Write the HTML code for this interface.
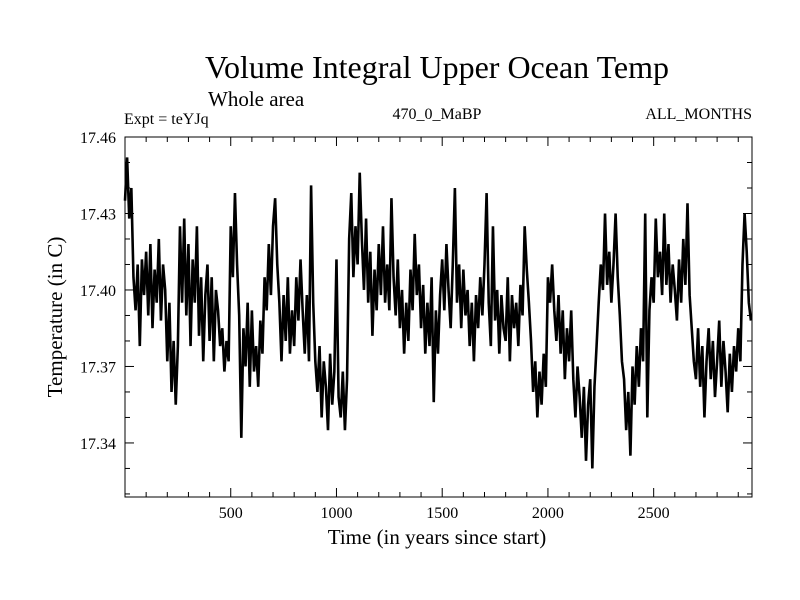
<!DOCTYPE html>
<html><head><meta charset="utf-8"><style>
html,body{margin:0;padding:0;background:#fff;}
svg{display:block;font-family:"Liberation Serif",serif;}
</style></head><body>
<svg id="chart" width="800" height="600">
<rect width="800" height="600" fill="#fff"/>
<text x="437" y="78" font-size="32" text-anchor="middle">Volume Integral Upper Ocean Temp</text>
<text x="208" y="106" font-size="21">Whole area</text>
<text x="124" y="124" font-size="16">Expt = teYJq</text>
<text x="437" y="119" font-size="16" text-anchor="middle">470_0_MaBP</text>
<text x="752" y="119" font-size="16" text-anchor="end">ALL_MONTHS</text>
<text x="437" y="544" font-size="21" text-anchor="middle">Time (in years since start)</text>
<text x="0" y="0" font-size="21" text-anchor="middle" transform="translate(62,317) rotate(-90)">Temperature (in C)</text>
<g id="axes"></g>
<path id="series" fill="none" stroke="#000" stroke-width="2.6" stroke-linejoin="miter" stroke-miterlimit="3"/>
<rect x="125" y="137" width="627" height="360" fill="none" stroke="#000" stroke-width="1"/>
</svg>
<script>
const startYear = 0;
const stepYears = 10;
const temps = [
17.435,17.452,17.428,17.440,17.405,17.392,17.410,17.378,17.412,17.398,
17.415,17.390,17.418,17.385,17.408,17.395,17.420,17.388,17.410,17.400,
17.372,17.395,17.360,17.380,17.355,17.378,17.425,17.395,17.428,17.390,
17.418,17.378,17.412,17.395,17.425,17.382,17.405,17.372,17.398,17.410,
17.380,17.405,17.372,17.400,17.392,17.378,17.385,17.368,17.380,17.372,
17.425,17.405,17.438,17.410,17.390,17.342,17.385,17.370,17.395,17.362,
17.392,17.368,17.378,17.362,17.388,17.375,17.405,17.392,17.418,17.398,
17.425,17.436,17.410,17.395,17.372,17.398,17.380,17.405,17.375,17.392,
17.378,17.405,17.388,17.412,17.392,17.375,17.398,17.372,17.441,17.395,
17.372,17.360,17.378,17.350,17.372,17.362,17.345,17.375,17.355,17.368,
17.412,17.358,17.350,17.368,17.345,17.365,17.420,17.438,17.405,17.425,
17.410,17.446,17.420,17.400,17.428,17.395,17.415,17.382,17.408,17.392,
17.418,17.398,17.425,17.395,17.410,17.392,17.436,17.405,17.390,17.412,
17.385,17.400,17.375,17.395,17.380,17.408,17.392,17.422,17.398,17.410,
17.385,17.402,17.375,17.395,17.378,17.405,17.356,17.392,17.375,17.398,
17.412,17.392,17.418,17.400,17.385,17.410,17.440,17.395,17.410,17.385,
17.408,17.390,17.400,17.378,17.395,17.372,17.398,17.385,17.405,17.390,
17.410,17.438,17.395,17.378,17.425,17.388,17.400,17.375,17.398,17.385,
17.380,17.405,17.372,17.398,17.385,17.395,17.378,17.402,17.390,17.425,
17.408,17.395,17.380,17.360,17.372,17.350,17.368,17.355,17.375,17.362,
17.405,17.395,17.410,17.392,17.380,17.398,17.375,17.392,17.365,17.385,
17.372,17.392,17.365,17.350,17.370,17.358,17.342,17.362,17.333,17.355,
17.365,17.330,17.362,17.378,17.395,17.410,17.400,17.430,17.402,17.415,
17.395,17.410,17.430,17.405,17.390,17.372,17.365,17.345,17.360,17.335,
17.370,17.355,17.378,17.362,17.385,17.372,17.430,17.350,17.392,17.405,
17.395,17.428,17.405,17.415,17.398,17.430,17.402,17.418,17.395,17.410,
17.400,17.388,17.412,17.395,17.420,17.402,17.434,17.398,17.385,17.372,
17.365,17.385,17.362,17.378,17.350,17.372,17.385,17.365,17.380,17.358,
17.372,17.388,17.362,17.380,17.368,17.352,17.375,17.360,17.378,17.368,
17.385,17.372,17.410,17.430,17.415,17.395,17.388
];
const xTickLabels = [500, 1000, 1500, 2000, 2500];
const yTickLabels = ["17.34", "17.37", "17.40", "17.43", "17.46"];

const X0 = 125, X1 = 752, Y0 = 137, Y1 = 497;
const xMin = 0, xMax = 2965, yMin = 17.3188, yMax = 17.46;
const xs = v => X0 + (v - xMin) / (xMax - xMin) * (X1 - X0);
const ys = v => Y1 - (v - yMin) / (yMax - yMin) * (Y1 - Y0);
const NS = "http://www.w3.org/2000/svg";
const axes = document.getElementById("axes");

function line(x1,y1,x2,y2,name){
  const l = document.createElementNS(NS,"line");
  l.setAttribute("x1",x1);l.setAttribute("y1",y1);l.setAttribute("x2",x2);l.setAttribute("y2",y2);
  l.setAttribute("stroke","#000");l.setAttribute("stroke-width","1");
  
  
  axes.appendChild(l);
}
function text(x,y,s,anchor,name){
  const t = document.createElementNS(NS,"text");
  t.setAttribute("x",x);t.setAttribute("y",y);t.setAttribute("font-size","16");
  t.setAttribute("text-anchor",anchor);t.textContent=s;
  
  
  axes.appendChild(t);
}
for (let v = 100; v < xMax; v += 100) {
  const x = xs(v), len = (v % 500 === 0) ? 9 : 5;
  line(x, Y1, x, Y1 - len, "x-tick");
  line(x, Y0, x, Y0 + len, "x-tick-top");
}
xTickLabels.forEach(v => text(xs(v), 518, String(v), "middle", "x-tick-label"));
for (let k = 0; k <= 14; k++) {
  const v = 17.46 - k * 0.01;
  if (v < yMin) break;
  const y = ys(v), len = (k % 3 === 0) ? 9 : 5;
  line(X0, y, X0 + len, y, "y-tick");
  line(X1, y, X1 - len, y, "y-tick-right");
}
yTickLabels.forEach(s => text(116, ys(parseFloat(s)) + 6, s, "end", "y-tick-label"));
let d = "";
temps.forEach((t,i) => { d += (i ? "L" : "M") + xs(startYear + i*stepYears).toFixed(2) + "," + ys(t).toFixed(2); });
document.getElementById("series").setAttribute("d", d);
</script>
</body></html>
